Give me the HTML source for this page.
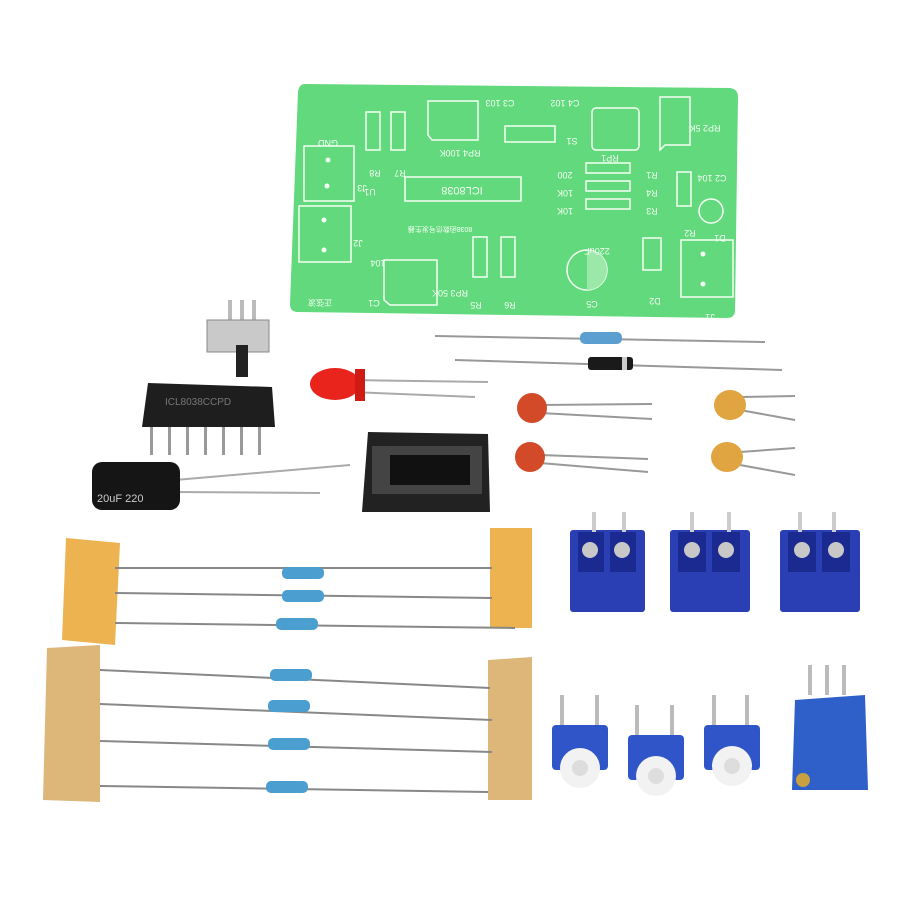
<!DOCTYPE html>
<html><head><meta charset="utf-8"><style>
html,body{margin:0;padding:0;background:#fff;}
svg{display:block;}
text{font-family:"Liberation Sans","Noto Sans CJK SC",sans-serif;}
</style></head><body>
<svg width="900" height="900" viewBox="0 0 900 900" xmlns="http://www.w3.org/2000/svg">
<rect width="900" height="900" fill="#fff"/>
<!-- PCB -->
<path d="M305 84 L730 88 Q738 89 738 97 L735 310 Q735 318 727 318 L298 312 Q290 312 290 304 L298 92 Q299 84 305 84Z" fill="#62d97c"/>
<g fill="none" stroke="#f4fff4" stroke-width="1.5">
<rect x="304" y="146" width="50" height="55"/>
<rect x="299" y="206" width="52" height="56"/>
<rect x="366" y="112" width="14" height="38"/><rect x="391" y="112" width="14" height="38"/>
<path d="M428 101 H478 V140 H432 L428 135Z"/>
<rect x="505" y="126" width="50" height="16"/>
<rect x="592" y="108" width="47" height="42" rx="4"/>
<path d="M660 97 H690 V145 H665 L660 150Z"/>
<rect x="405" y="177" width="116" height="24"/>
<rect x="586" y="163" width="44" height="10"/><rect x="586" y="181" width="44" height="10"/><rect x="586" y="199" width="44" height="10"/>
<rect x="677" y="172" width="14" height="34"/>
<circle cx="711" cy="211" r="12"/>
<rect x="643" y="238" width="18" height="32"/>
<rect x="681" y="240" width="52" height="57"/>
<rect x="473" y="237" width="14" height="40"/><rect x="501" y="237" width="14" height="40"/>
<circle cx="587" cy="270" r="20"/>
<path d="M384 260 H437 V305 H390 L384 300Z"/>
</g>
<path d="M587 250 A20 20 0 0 1 587 290Z" fill="#9be8a8"/>
<g fill="#f4fff4" font-size="9" text-anchor="middle">
<text transform="translate(328,140) rotate(180)">GND</text>
<text transform="translate(462,187) rotate(180)" font-size="11">ICL8038</text>
<text transform="translate(370,189) rotate(180)">U1</text>
<text transform="translate(375,170) rotate(180)">R8</text>
<text transform="translate(400,170) rotate(180)">R7</text>
<text transform="translate(460,150) rotate(180)">RP4 100K</text>
<text transform="translate(500,100) rotate(180)">C3 103</text>
<text transform="translate(565,100) rotate(180)">C4 102</text>
<text transform="translate(572,138) rotate(180)">S1</text>
<text transform="translate(610,155) rotate(180)">RP1</text>
<text transform="translate(705,125) rotate(180)">RP2 5K</text>
<text transform="translate(565,172) rotate(180)">200</text>
<text transform="translate(565,190) rotate(180)">10K</text>
<text transform="translate(565,208) rotate(180)">10K</text>
<text transform="translate(652,172) rotate(180)">R1</text>
<text transform="translate(652,190) rotate(180)">R4</text>
<text transform="translate(652,208) rotate(180)">R3</text>
<text transform="translate(712,175) rotate(180)">C2 104</text>
<text transform="translate(690,230) rotate(180)">R2</text>
<text transform="translate(720,235) rotate(180)">D1</text>
<text transform="translate(358,240) rotate(180)">J2</text>
<text transform="translate(362,185) rotate(180)">J3</text>
<text transform="translate(378,260) rotate(180)">104</text>
<text transform="translate(374,300) rotate(180)">C1</text>
<text transform="translate(450,290) rotate(180)">RP3 50K</text>
<text transform="translate(476,302) rotate(180)">R5</text>
<text transform="translate(510,302) rotate(180)">R6</text>
<text transform="translate(597,248) rotate(180)">220uF</text>
<text transform="translate(592,301) rotate(180)">C5</text>
<text transform="translate(655,298) rotate(180)">D2</text>
<text transform="translate(710,314) rotate(180)">J1</text>
<text transform="translate(440,227) rotate(180)" font-size="7">8038函数信号发生器</text>
<text transform="translate(320,300) rotate(180)" font-size="8">正弦波</text>
</g>
<g fill="#f4fff4"><circle cx="328" cy="160" r="2.5"/><circle cx="327" cy="186" r="2.5"/><circle cx="324" cy="220" r="2.5"/><circle cx="324" cy="250" r="2.5"/><circle cx="703" cy="254" r="2.5"/><circle cx="703" cy="284" r="2.5"/></g>
<!-- switch -->
<rect x="228" y="300" width="4" height="22" fill="#bbb"/><rect x="240" y="300" width="4" height="22" fill="#bbb"/><rect x="252" y="300" width="4" height="22" fill="#bbb"/>
<rect x="207" y="320" width="62" height="32" fill="#c9c9c9" stroke="#888"/>
<rect x="236" y="345" width="12" height="32" fill="#222"/>
<!-- IC -->
<g fill="#999"><rect x="150" y="425" width="3" height="30"/><rect x="168" y="425" width="3" height="30"/><rect x="186" y="425" width="3" height="30"/><rect x="204" y="425" width="3" height="30"/><rect x="222" y="425" width="3" height="30"/><rect x="240" y="425" width="3" height="30"/><rect x="258" y="425" width="3" height="30"/></g>
<path d="M148 383 L272 387 L275 427 L142 427Z" fill="#1e1e1e"/>
<text x="165" y="405" fill="#777" font-size="10">ICL8038CCPD</text>
<!-- LED -->
<line x1="350" y1="380" x2="488" y2="382" stroke="#aaa" stroke-width="2"/>
<line x1="350" y1="392" x2="475" y2="397" stroke="#aaa" stroke-width="2"/>
<ellipse cx="335" cy="384" rx="25" ry="16" fill="#e8241c"/>
<rect x="355" y="369" width="10" height="32" fill="#d01a14"/>
<!-- resistor + diode -->
<line x1="435" y1="336" x2="765" y2="342" stroke="#999" stroke-width="2"/>
<rect x="580" y="332" width="42" height="12" rx="5" fill="#5b9fd0"/>
<line x1="455" y1="360" x2="782" y2="370" stroke="#999" stroke-width="2"/>
<rect x="588" y="357" width="45" height="13" rx="3" fill="#1a1a1a"/>
<rect x="622" y="357" width="5" height="13" fill="#ccc"/>
<!-- ceramic caps -->
<line x1="540" y1="405" x2="652" y2="404" stroke="#999" stroke-width="2"/><line x1="540" y1="413" x2="652" y2="419" stroke="#999" stroke-width="2"/>
<circle cx="532" cy="408" r="15" fill="#d24a28"/>
<line x1="540" y1="455" x2="648" y2="459" stroke="#999" stroke-width="2"/><line x1="540" y1="463" x2="648" y2="472" stroke="#999" stroke-width="2"/>
<circle cx="530" cy="457" r="15" fill="#d24a28"/>
<line x1="740" y1="397" x2="795" y2="396" stroke="#999" stroke-width="2"/><line x1="740" y1="410" x2="795" y2="420" stroke="#999" stroke-width="2"/>
<ellipse cx="730" cy="405" rx="16" ry="15" fill="#e0a440"/>
<line x1="740" y1="452" x2="795" y2="448" stroke="#999" stroke-width="2"/><line x1="740" y1="465" x2="795" y2="475" stroke="#999" stroke-width="2"/>
<ellipse cx="727" cy="457" rx="16" ry="15" fill="#e0a440"/>
<!-- electrolytic -->
<line x1="175" y1="480" x2="350" y2="465" stroke="#aaa" stroke-width="2"/>
<line x1="175" y1="492" x2="320" y2="493" stroke="#aaa" stroke-width="2"/>
<rect x="92" y="462" width="88" height="48" rx="10" fill="#151515"/>
<text x="97" y="502" fill="#ccc" font-size="11">20uF 220</text>
<!-- IC socket -->
<path d="M368 432 L488 434 L490 512 L362 512Z" fill="#222"/>
<rect x="372" y="446" width="110" height="48" fill="#444"/>
<rect x="390" y="455" width="80" height="30" fill="#111"/>
<!-- tape -->
<path d="M66 538 L120 543 L115 645 L62 640Z" fill="#ecb350"/>
<path d="M490 528 L532 528 L532 628 L490 628Z" fill="#ecb350"/>
<path d="M47 648 L100 645 L100 802 L43 800Z" fill="#ddb67a"/>
<path d="M488 660 L532 657 L532 800 L488 800Z" fill="#ddb67a"/>
<g stroke="#888" stroke-width="2">
<line x1="115" y1="568" x2="492" y2="568"/>
<line x1="115" y1="593" x2="492" y2="598"/>
<line x1="115" y1="623" x2="515" y2="628"/>
<line x1="100" y1="670" x2="490" y2="688"/>
<line x1="100" y1="704" x2="492" y2="720"/>
<line x1="100" y1="741" x2="492" y2="752"/>
<line x1="100" y1="786" x2="488" y2="792"/>
</g>
<g fill="#4a9fd0">
<rect x="282" y="567" width="42" height="12" rx="5"/>
<rect x="282" y="590" width="42" height="12" rx="5"/>
<rect x="276" y="618" width="42" height="12" rx="5"/>
<rect x="270" y="669" width="42" height="12" rx="5"/>
<rect x="268" y="700" width="42" height="12" rx="5"/>
<rect x="268" y="738" width="42" height="12" rx="5"/>
<rect x="266" y="781" width="42" height="12" rx="5"/>
</g>
<!-- terminal blocks -->
<g>
<rect x="570" y="530" width="75" height="82" rx="3" fill="#2b3fb5"/><rect x="578" y="532" width="26" height="40" fill="#1b2a90"/><rect x="610" y="532" width="26" height="40" fill="#1b2a90"/>
<circle cx="590" cy="550" r="8" fill="#c8c8c8"/><circle cx="622" cy="550" r="8" fill="#c8c8c8"/>
<rect x="592" y="512" width="4" height="20" fill="#ccc"/><rect x="622" y="512" width="4" height="20" fill="#ccc"/>
<rect x="670" y="530" width="80" height="82" rx="3" fill="#2b3fb5"/><rect x="678" y="532" width="28" height="40" fill="#1b2a90"/><rect x="712" y="532" width="28" height="40" fill="#1b2a90"/>
<circle cx="692" cy="550" r="8" fill="#c8c8c8"/><circle cx="726" cy="550" r="8" fill="#c8c8c8"/>
<rect x="690" y="512" width="4" height="20" fill="#ccc"/><rect x="727" y="512" width="4" height="20" fill="#ccc"/>
<rect x="780" y="530" width="80" height="82" rx="3" fill="#2b3fb5"/><rect x="788" y="532" width="28" height="40" fill="#1b2a90"/><rect x="822" y="532" width="28" height="40" fill="#1b2a90"/>
<circle cx="802" cy="550" r="8" fill="#c8c8c8"/><circle cx="836" cy="550" r="8" fill="#c8c8c8"/>
<rect x="798" y="512" width="4" height="20" fill="#ccc"/><rect x="832" y="512" width="4" height="20" fill="#ccc"/>
</g>
<!-- pots -->
<g>
<rect x="560" y="695" width="4" height="30" fill="#bbb"/><rect x="595" y="695" width="4" height="30" fill="#bbb"/>
<rect x="552" y="725" width="56" height="45" rx="4" fill="#2f55c8"/><circle cx="580" cy="768" r="20" fill="#f2f2f2"/><circle cx="580" cy="768" r="8" fill="#ddd"/>
<rect x="635" y="705" width="4" height="30" fill="#bbb"/><rect x="670" y="705" width="4" height="30" fill="#bbb"/>
<rect x="628" y="735" width="56" height="45" rx="4" fill="#2f55c8"/><circle cx="656" cy="776" r="20" fill="#f2f2f2"/><circle cx="656" cy="776" r="8" fill="#ddd"/>
<rect x="712" y="695" width="4" height="30" fill="#bbb"/><rect x="745" y="695" width="4" height="30" fill="#bbb"/>
<rect x="704" y="725" width="56" height="45" rx="4" fill="#2f55c8"/><circle cx="732" cy="766" r="20" fill="#f2f2f2"/><circle cx="732" cy="766" r="8" fill="#ddd"/>
<rect x="808" y="665" width="4" height="30" fill="#bbb"/><rect x="825" y="665" width="4" height="30" fill="#bbb"/><rect x="842" y="665" width="4" height="30" fill="#bbb"/>
<path d="M795 700 L865 695 L868 790 L792 790Z" fill="#2f5fc8"/>
<circle cx="803" cy="780" r="7" fill="#c9a040"/>
</g>
</svg>
</body></html>
